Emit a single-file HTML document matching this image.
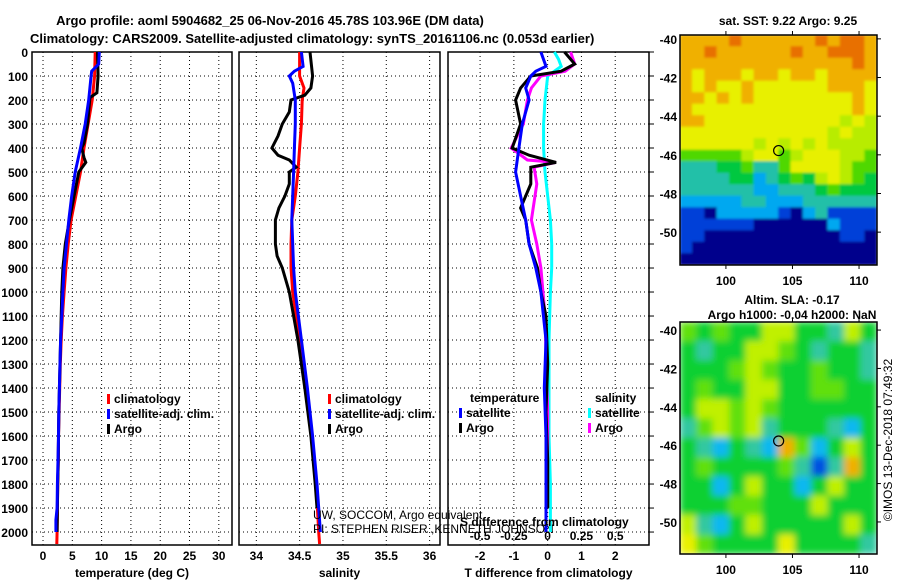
<!DOCTYPE html>
<html><head><meta charset="utf-8">
<style>
body{margin:0;background:#fff;width:900px;height:580px;overflow:hidden;font-family:"Liberation Sans",sans-serif}
svg text{font-family:"Liberation Sans",sans-serif;font-weight:bold;font-size:12px;fill:#000}
</style></head><body>
<svg id="c" width="900" height="580" viewBox="0 0 900 580" xmlns="http://www.w3.org/2000/svg">
<text x="270" y="25" text-anchor="middle" style="font-size:13px">Argo profile: aoml 5904682_25 06-Nov-2016 45.78S 103.96E (DM data)</text>
<text x="30" y="43" style="font-size:13px">Climatology: CARS2009. Satellite-adjusted climatology: synTS_20161106.nc (0.053d earlier)</text>
<text x="788" y="25" text-anchor="middle">sat. SST: 9.22 Argo: 9.25</text>
<text x="792" y="304" text-anchor="middle">Altim. SLA: -0.17</text>
<text x="792" y="319" text-anchor="middle">Argo h1000: -0.04 h2000: NaN</text>
<text transform="translate(892,440) rotate(-90)" text-anchor="middle" style="font-weight:normal">©IMOS 13-Dec-2018 07:49:32</text>
<g id="g"></g>
</svg>
<script>
const NS="http://www.w3.org/2000/svg";
const G=document.getElementById('g');
function el(t,a,p){const e=document.createElementNS(NS,t);for(const k in a)e.setAttribute(k,a[k]);(p||G).appendChild(e);return e;}
function tx(x,y,s,anchor,p,extra){const e=el('text',Object.assign({x:x,y:y,'text-anchor':anchor||'start'},extra||{}),p);e.textContent=s;return e;}

// ---- data ----
const depthTicks=[0,100,200,300,400,500,600,700,800,900,1000,1100,1200,1300,1400,1500,1600,1700,1800,1900,2000];
const tempTicks=[0,5,10,15,20,25,30];
const salTicks=[34,34.5,35,35.5,36];
const dTTicks=[-2,-1,0,1,2];
const dSTickLabels=["-0.5","-0.25","0","0.25","0.5"];
const dSTickVals=[-0.5,-0.25,0,0.25,0.5];

const tClimDepth=[0,100,200,300,400,500,600,700,800,900,1000,1100,1200,1300,1400,1500,1600,1700,1800,1900,2000,2050];
const tClim=[8.9,8.8,8.4,7.7,7.0,6.4,5.6,4.8,4.3,3.9,3.6,3.3,3.1,2.95,2.85,2.75,2.65,2.6,2.5,2.45,2.4,2.35];
const tSatDepth=[0,50,80,100,200,300,400,500,600,700,800,900,1000,1100,1200,1300,1400,1500,1600,1700,1800,1900,1950,2000];
const tSat=[9.6,9.5,8.3,8.2,7.8,7.2,6.4,5.5,4.9,4.4,4.0,3.6,3.4,3.2,3.0,2.9,2.8,2.7,2.65,2.55,2.45,2.4,2.2,2.2];
const tArgoDepth=[0,100,170,190,300,380,400,440,460,500,600,700,800,900,1000,1100,1200,1300,1400,1500,1600,1700,1800,1900,2000];
const tArgo=[9.3,9.4,9.2,8.0,7.6,7.0,6.6,7.0,7.3,6.1,5.3,4.5,3.8,3.4,3.2,3.1,3.0,2.9,2.8,2.7,2.65,2.6,2.5,2.45,2.4];

const sClimDepth=[0,100,150,200,300,400,500,600,700,800,900,1000,1200,1400,1600,1800,2000,2050];
const sClim=[34.5,34.5,34.55,34.53,34.52,34.5,34.48,34.45,34.41,34.4,34.4,34.42,34.5,34.57,34.64,34.69,34.72,34.73];
const sSatDepth=[0,60,80,100,130,200,300,400,500,600,700,800,900,1000,1200,1400,1600,1800,2000];
const sSat=[34.52,34.54,34.44,34.38,34.42,34.45,34.45,34.44,34.43,34.42,34.41,34.42,34.43,34.45,34.52,34.59,34.65,34.7,34.74];
const sArgoDepth=[0,100,150,180,200,250,300,350,400,430,450,480,500,550,600,650,700,800,850,900,1000,1200,1400,1600,1800,1900];
const sArgo=[34.62,34.65,34.63,34.56,34.4,34.38,34.3,34.25,34.18,34.25,34.38,34.46,34.38,34.38,34.33,34.26,34.22,34.22,34.24,34.3,34.38,34.48,34.56,34.63,34.68,34.7];

// difference panel (T units; salinity diffs scaled x4)
const dTsatDepth=[0,60,80,100,150,200,300,400,500,600,700,800,900,1000,1200,1400,1600,1800,2000];
const dTsat=[-0.2,-0.05,-0.35,-0.5,-0.65,-0.55,-0.75,-0.85,-0.95,-0.8,-0.65,-0.55,-0.35,-0.2,-0.05,-0.1,-0.05,-0.05,-0.05];
const dTargoDepth=[0,50,80,100,150,200,300,400,430,460,480,550,650,700,800,900,1000,1100,1300,1500,1700,1900];
const dTargo=[0.5,0.8,0.4,-0.5,-0.8,-0.95,-0.8,-1.05,-0.55,0.25,-0.5,-0.5,-0.8,-0.65,-0.55,-0.3,-0.2,-0.05,0,-0.05,0,0];
const dSsatDepth=[0,30,60,100,200,300,400,500,600,700,800,900,1000,1200,1400,1600,1800,2000];
const dSsat=[0.05,0.08,0.1,0.0,-0.02,-0.03,-0.03,-0.02,0.0,0.02,0.03,0.03,0.02,0.01,0.01,0.01,0.02,0.02];
const dSargoDepth=[0,50,80,100,150,200,300,400,450,460,480,550,700,800,900,1100,1300,1500,1700,1900];
const dSargo=[0.17,0.2,0.13,-0.05,-0.12,-0.15,-0.18,-0.27,-0.15,0.06,-0.1,-0.08,-0.12,-0.08,-0.05,-0.02,-0.01,0,0,0];

// maps: digit = colour class 0..9
const sstRows=[
"8888988888898998","8898888889889998","8888888888888898","8788878878878888","8787787777778887",
"8878787777777787","8777777777777787","8877777777777676","7777777777776766","7777776767676666",
"5555567756777665","3334453357777655","3333442345467654","3333332233345444","2222233222333333",
"1102222210231111","1111110000002111","1100000000000110","1000000000000000","0000000000000000"];
const slaRows=[
"545446644364","434466543443","444565445443","454466445544","466565444444","356563444324",
"432432852464","454444531384","442464424644","444554446444","632464444464","754444744443"];
const palette=["#00008c","#0040d8","#00a8f0","#20c0a8","#00c840","#50d800","#b8ec00","#e8f000","#f0b000","#e87000"];
const slaPalette=["#00008c","#0050e0","#10b8f0","#30c8a0","#10d030","#60e010","#c0f000","#e8f000","#f0b000","#e87000"];

// ---- panels ----
const yTop=52,yBot=545,dMax=2054;
const yD=d=>yTop+d/dMax*(yBot-yTop);
function panel(name,x0,x1,xmin,xmax,ticks,labels,title,rightTicks){
  const g=el('g',{});
  
  
  const xS=v=>x0+(v-xmin)/(xmax-xmin)*(x1-x0);
  ticks.forEach(t=>{el('line',{x1:xS(t),x2:xS(t),y1:yTop,y2:yBot,stroke:'#000','stroke-width':1,'stroke-dasharray':'1,3'},g);});
  depthTicks.forEach(d=>{el('line',{x1:x0,x2:x1,y1:yD(d),y2:yD(d),stroke:'#000','stroke-width':1,'stroke-dasharray':'1,3'},g);
    if(rightTicks) el('line',{x1:x1,x2:x1+5,y1:yD(d),y2:yD(d),stroke:'#000'},g);});
  el('rect',{x:x0,y:yTop,width:x1-x0,height:yBot-yTop,fill:'none',stroke:'#000','stroke-width':1.5},g);
  if(labels) ticks.forEach((t,i)=>{const l=tx(xS(t),560,labels[i],'middle',g);});
  if(title){const l=tx((x0+x1)/2,577,title,'middle',g);}
  return {g,xS};
}
function line(p,dep,vals,color,name){
  const pts=dep.map((d,i)=>p.xS(vals[i]).toFixed(1)+','+yD(d).toFixed(1)).join(' ');
  const e=el('polyline',{points:pts,fill:'none',stroke:color,'stroke-width':3,'stroke-linejoin':'miter'},p.g);
  
  
}
function legend(p,x,y,items){
  items.forEach((it,i)=>{
    el('rect',{x:x,y:y+i*15-9,width:3,height:10,fill:it[0]},p.g);
    const t=tx(x+7,y+i*15,it[1],'start',p.g);
    
    
  });
}
depthTicks.forEach(d=>{const t=tx(28,yD(d)+5,String(d),'end');
  
  });

const pT=panel('temperature-panel',32,232,-1.88,32.25,tempTicks,tempTicks.map(String),'temperature (deg C)');
line(pT,tClimDepth,tClim,'#ff0000','temp-climatology-line');
line(pT,tArgoDepth,tArgo,'#000','temp-argo-line');
line(pT,tSatDepth,tSat,'#0000ff','temp-satellite-line');
legend(pT,107,403,[['#f00','climatology'],['#00f','satellite-adj. clim.'],['#000','Argo']]);

const pS=panel('salinity-panel',239,440,33.8,36.12,salTicks,salTicks.map(String),'salinity');
line(pS,sClimDepth,sClim,'#ff0000','sal-climatology-line');
line(pS,sArgoDepth,sArgo,'#000','sal-argo-line');
line(pS,sSatDepth,sSat,'#0000ff','sal-satellite-line');
legend(pS,328,403,[['#f00','climatology'],['#00f','satellite-adj. clim.'],['#000','Argo']]);
{const a=tx(313,519,'UW, SOCCOM, Argo equivalent','start',null,{style:'font-weight:normal'});
 const b=tx(313,533,'PI: STEPHEN RISER ,KENNETH JOHNSON','start',null,{style:'font-weight:normal'});}

const pD=panel('difference-panel',448,649,-2.95,3.0,dTTicks,dTTicks.map(String),'T difference from climatology',true);
line(pD,dSsatDepth,dSsat.map(v=>v*4),'#00ffff','sal-diff-satellite-line');
line(pD,dSargoDepth,dSargo.map(v=>v*4),'#ff00ff','sal-diff-argo-line');
line(pD,dTargoDepth,dTargo,'#000','temp-diff-argo-line');
line(pD,dTsatDepth,dTsat,'#0000ff','temp-diff-satellite-line');
{const t=tx(470,402,'temperature','start',pD.g);
 const s=tx(595,402,'salinity','start',pD.g);}
legend(pD,459,417,[['#00f','satellite'],['#000','Argo']]);
legend(pD,588,417,[['#0ff','satellite'],['#f0f','Argo']]);
{const t=tx(460,526,'S difference from climatology','start',pD.g);
 dSTickVals.forEach((v,i)=>{const l=tx(pD.xS(v*4),540,dSTickLabels[i],'middle',pD.g);});}

// ---- maps ----
function map(name,x0,y0,x1,y1,rows,pal,blur,lat0,lat1){
  const g=el('g',{});
  
  
  const lonMin=96.55,lonMax=111.35;
  const nr=rows.length,nc=rows[0].length,cw=(x1-x0)/nc,ch=(y1-y0)/nr;
  const id='clip'+name;
  const cp=el('clipPath',{id:id},g);el('rect',{x:x0,y:y0,width:x1-x0,height:y1-y0},cp);
  let inner=el('g',{'clip-path':'url(#'+id+')'},g);
  let cells=inner;
  if(blur){const f=el('filter',{id:'f'+name,x:'-10%',y:'-10%',width:'120%',height:'120%'},g);el('feGaussianBlur',{stdDeviation:blur},f);cells=el('g',{filter:'url(#f'+name+')'},inner);}
  rows.forEach((r,i)=>{for(let j=0;j<nc;j++){
    const c=el('rect',{x:(x0+j*cw-0.3).toFixed(1),y:(y0+i*ch-0.3).toFixed(1),width:(cw+0.6).toFixed(1),height:(ch+0.6).toFixed(1),fill:pal[+r[j]]},cells);
    
    }});
  el('rect',{x:x0,y:y0,width:x1-x0,height:y1-y0,fill:'none',stroke:'#000','stroke-width':1.5},g);
  const xL=v=>x0+(v-lonMin)/(lonMax-lonMin)*(x1-x0);
  const yL=v=>y0+(lat0-v)/(lat0-lat1)*(y1-y0);
  [100,105,110].forEach(v=>{el('line',{x1:xL(v),x2:xL(v),y1:y1,y2:y1+4,stroke:'#000'},g);el('line',{x1:xL(v),x2:xL(v),y1:y0,y2:y0-4,stroke:'#000'},g);
    const l=tx(xL(v),y1+20,String(v),'middle',g);});
  [-40,-42,-44,-46,-48,-50].forEach(v=>{el('line',{x1:x1,x2:x1+4,y1:yL(v),y2:yL(v),stroke:'#000'},g);
    const l=tx(x0-3,yL(v)+5,String(v),'end',g);});
  const m=el('circle',{cx:xL(103.96),cy:yL(-45.78),r:5,fill:'none',stroke:'#000','stroke-width':1.2},g);
  
  
}
map('sst-map',680,35,877,265,sstRows,palette,1.2,-39.8,-51.7);
map('sla-map',680,322,877,554,slaRows,slaPalette,3.5,-39.58,-51.67);
</script>
</body></html>
